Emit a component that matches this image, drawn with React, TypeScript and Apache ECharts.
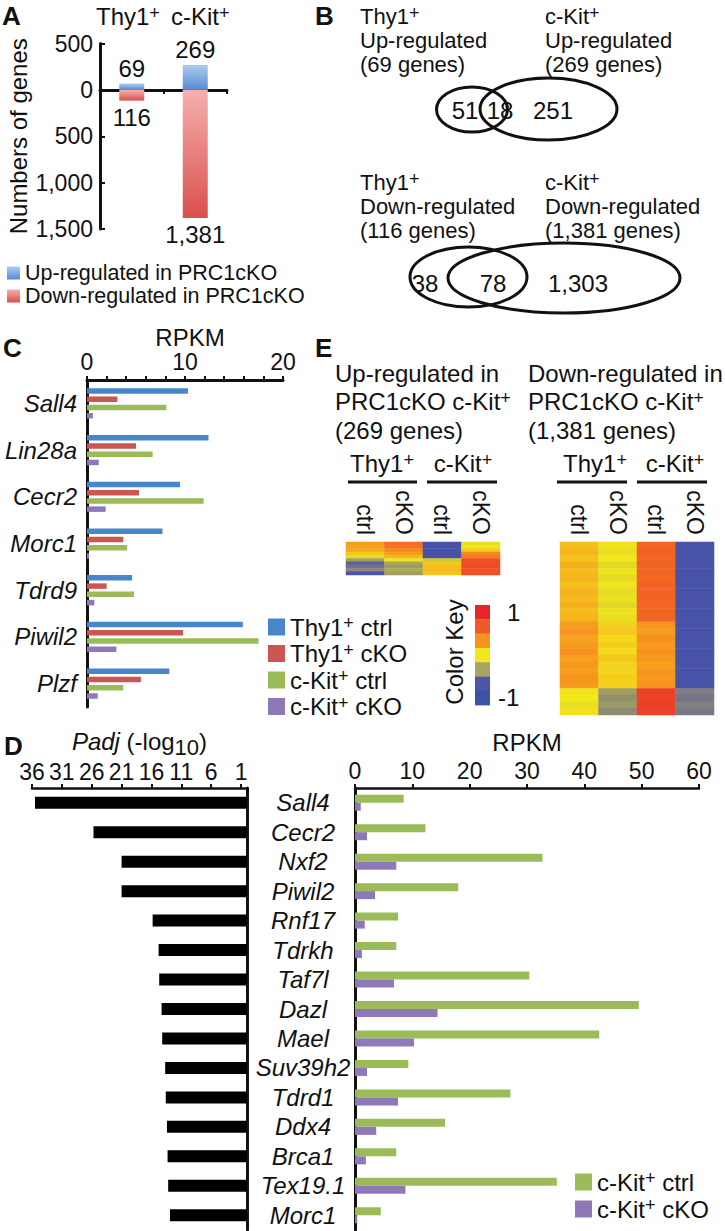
import React, { useEffect, useRef } from 'react';
import * as echarts from 'echarts';

const FONT = '"Liberation Sans", Arial, Helvetica, sans-serif';
const FS = 24;
const TICK = 23;
const INK = '#111';

// ---------- Panel A ----------
const aGroups = ['Thy1+', 'c-Kit+'];
const aUpCounts = [69, 269];
const aDownCounts = [-116, -1381];
const aLegend = ['Up-regulated in PRC1cKO', 'Down-regulated in PRC1cKO'];

// ---------- Panel B ----------
const vennUpTotals = [69, 269];
const vennUpParts = [51, 18, 251];
const vennDownTotals = [116, 1381];
const vennDownParts = [38, 78, 1303];

// ---------- Panel C ----------
const cGenes = ['Sall4', 'Lin28a', 'Cecr2', 'Morc1', 'Tdrd9', 'Piwil2', 'Plzf'];
const cThyCtrl = [10.3, 12.4, 9.5, 7.7, 4.6, 15.9, 8.4];
const cThyCKO = [3.1, 5.0, 5.3, 3.7, 2.0, 9.8, 5.5];
const cKitCtrl = [8.1, 6.7, 11.9, 4.1, 4.8, 17.5, 3.7];
const cKitCKO = [0.6, 1.2, 1.9, 0.2, 0.75, 3.0, 1.1];
const cSeries = ['Thy1+ ctrl', 'Thy1+ cKO', 'c-Kit+ ctrl', 'c-Kit+ cKO'];
const cTicks = [0, 2, 4, 6, 8, 10, 12, 14, 16, 18, 20];
const cTickLabels = [0, 10, 20];

// ---------- Panel E ----------
const eCols = ['ctrl', 'cKO', 'ctrl', 'cKO'];
// up-regulated (269 genes), rows top to bottom
const eUpThyCtrl = [0.30, 0.28, 0.26, 0.12, -0.05, -0.35, -0.62, -0.55, -0.45, -0.72];
const eUpThyCKO = [0.56, 0.52, 0.40, 0.30, 0.20, -0.02, -0.32, -0.38, -0.30, -0.36];
const eUpKitCtrl = [-0.85, -0.84, -0.83, -0.82, -0.80, -0.15, 0.12, 0.16, 0.18, 0.14];
const eUpKitCKO = [-0.05, 0.0, 0.10, 0.42, 0.48, 0.72, 0.74, 0.76, 0.72, 0.74];
// down-regulated (1,381 genes), rows top to bottom
const eDownThyCtrl = [0.17, 0.2, 0.15, 0.22, 0.18, 0.2, 0.16, 0.21, 0.19, 0.23, 0.18, 0.2, 0.3, 0.33, 0.28, 0.31, 0.35, 0.29, 0.32, 0.3, 0.34, 0.31, 0.02, 0.0, -0.04, 0.03];
const eDownThyCKO = [0.02, -0.04, 0.0, -0.07, -0.02, -0.06, 0.01, -0.05, -0.03, -0.08, -0.02, -0.05, 0.09, 0.12, 0.06, 0.1, 0.05, 0.13, 0.08, 0.07, 0.11, 0.09, -0.36, -0.42, -0.38, -0.44];
const eDownKitCtrl = [0.6, 0.62, 0.59, 0.61, 0.6, 0.58, 0.62, 0.6, 0.61, 0.59, 0.6, 0.61, 0.33, 0.3, 0.35, 0.31, 0.34, 0.32, 0.29, 0.33, 0.31, 0.34, 0.82, 0.8, 0.83, 0.81];
const eDownKitCKO = [-0.82, -0.83, -0.82, -0.81, -0.82, -0.83, -0.82, -0.82, -0.81, -0.82, -0.83, -0.82, -0.82, -0.81, -0.82, -0.83, -0.82, -0.82, -0.81, -0.82, -0.83, -0.82, -0.5, -0.54, -0.48, -0.52];
const eKeyLabels = ['1', '-1'];

// ---------- Panel D ----------
const dGenes = ['Sall4', 'Cecr2', 'Nxf2', 'Piwil2', 'Rnf17', 'Tdrkh', 'Taf7l', 'Dazl', 'Mael', 'Suv39h2', 'Tdrd1', 'Ddx4', 'Brca1', 'Tex19.1', 'Morc1'];
const dPadj = [35.5, 25.7, 21.0, 21.0, 15.8, 14.8, 14.7, 14.3, 14.2, 13.7, 13.6, 13.4, 13.3, 13.2, 12.9];
const dKitCtrl = [8.5, 12.3, 32.7, 18.0, 7.5, 7.2, 30.4, 49.5, 42.6, 9.3, 27.1, 15.7, 7.2, 35.2, 4.5];
const dKitCKO = [1.0, 2.1, 7.2, 3.5, 1.7, 1.2, 6.8, 14.4, 10.3, 2.1, 7.5, 3.7, 1.9, 8.8, 0.4];
const dPadjTicks = [1, 6, 11, 16, 21, 26, 31, 36];
const dSeries = ['c-Kit+ ctrl', 'c-Kit+ cKO'];

// ---------- styles ----------
const BLUE = '#4886cc';
const RED = '#cb5550';
const GREEN = '#9bbb59';
const PURPLE = '#8f78b8';
const HEAT = ['#3a4fa8', '#5356a6', '#a9a45b', '#f2e71b', '#f7951e', '#f15a24', '#e8232a'];
const KEY = ['#e8262a', '#f05a28', '#f7941e', '#f2e61c', '#a8a55c', '#5054a6', '#3c52a8'];

const fmtNum = (n: number) => String(Math.abs(n)).replace(/\B(?=(\d{3})+(?!\d))/g, ',');
const sup = (s: string) => s.replace('+', '{sup|+}');
const supRich = { sup: { fontSize: 18, lineHeight: 8, verticalAlign: 'top', fontFamily: FONT, color: INK } };

const txt = (x: number, y: number, text: string, extra: any = {}) => {
  const hasSup = text.indexOf('{sup|') >= 0;
  const style: any = {
    text,
    fill: INK,
    fontSize: FS,
    fontFamily: FONT,
    fontWeight: extra.fontWeight || 'normal',
    align: extra.align || 'left',
    textAlign: extra.align || 'left',
    verticalAlign: 'middle',
    textVerticalAlign: 'middle',
    ...(extra.style || {}),
  };
  if (hasSup) {
    style.lineHeight = 24;
    style.rich = { sup: { fontSize: 18, lineHeight: 6, verticalAlign: 'top', fontFamily: FONT, fill: INK } };
  }
  return { type: 'text', x, y, silent: true, rotation: extra.rotation || 0, style };
};

const ell = (cx: number, cy: number, rx: number, ry: number) => ({
  type: 'ellipse',
  silent: true,
  shape: { cx, cy, rx, ry },
  style: { fill: 'none', stroke: INK, lineWidth: 3 },
});

const hline = (x1: number, x2: number, y: number) => ({
  type: 'line',
  silent: true,
  shape: { x1, y1: y, x2, y2: y },
  style: { stroke: INK, lineWidth: 3 },
});

const cells = (cols: number[][]) => {
  const out: number[][] = [];
  cols.forEach((col, j) => col.forEach((v, i) => out.push([j, i, v])));
  return out;
};

const axisLine = { show: true, onZero: false, lineStyle: { color: INK, width: 3 } };
const lbl = { color: INK, fontSize: FS, fontFamily: FONT };
const tickLbl = { color: INK, fontSize: TICK, fontFamily: FONT };
const B = { style: { fontSize: 22 } };

export default function App() {
  const ref = useRef<HTMLDivElement>(null);

  useEffect(() => {
    if (!ref.current) return;
    const chart = echarts.init(ref.current, null, { renderer: 'svg' });

    const gradUp = new echarts.graphic.LinearGradient(0, 0, 0, 1, [
      { offset: 0, color: '#aecbef' },
      { offset: 1, color: '#558dd3' },
    ]);
    const gradDown = new echarts.graphic.LinearGradient(0, 0, 0, 1, [
      { offset: 0, color: '#f5b0ae' },
      { offset: 1, color: '#d9504c' },
    ]);

    const grids = [
      { left: 100, top: 43.5, width: 127, height: 185.5 },
      { left: 87, top: 380, width: 196, height: 327 },
      { left: 346, top: 542, width: 154, height: 33 },
      { left: 560, top: 542, width: 154, height: 173 },
      { left: 32, top: 788, width: 215, height: 442 },
      { left: 355, top: 788, width: 344, height: 442 },
    ].map((g) => ({ ...g, containLabel: false, outerBoundsMode: 'none' }));

    const letter = { fontWeight: 'bold', style: { fontSize: 26 } };

    const graphicEls: any[] = [
      // panel letters
      txt(2, 16, 'A', letter),
      txt(315, 16, 'B', letter),
      txt(3, 348, 'C', letter),
      txt(315, 348, 'E', letter),
      txt(4, 746, 'D', letter),
      // A headers
      txt(96, 16, sup(aGroups[0])),
      txt(171, 16, sup(aGroups[1])),
      // B upper
      txt(360, 16, sup('Thy1+'), B),
      txt(360, 40, 'Up-regulated', B),
      txt(360, 64, `(${fmtNum(vennUpTotals[0])} genes)`, B),
      txt(545, 16, sup('c-Kit+'), B),
      txt(545, 40, 'Up-regulated', B),
      txt(545, 64, `(${fmtNum(vennUpTotals[1])} genes)`, B),
      ell(472, 109.5, 35.5, 22.5),
      ell(548.5, 109, 68.5, 31),
      txt(465, 110, fmtNum(vennUpParts[0]), { align: 'center' }),
      txt(500, 110, fmtNum(vennUpParts[1]), { align: 'center' }),
      txt(553, 110, fmtNum(vennUpParts[2]), { align: 'center' }),
      // B lower
      txt(360, 182, sup('Thy1+'), B),
      txt(360, 206, 'Down-regulated', B),
      txt(360, 230, `(${fmtNum(vennDownTotals[0])} genes)`, B),
      txt(545, 182, sup('c-Kit+'), B),
      txt(545, 206, 'Down-regulated', B),
      txt(545, 230, `(${fmtNum(vennDownTotals[1])} genes)`, B),
      ell(468.5, 277, 58.5, 30),
      ell(564, 278, 116, 35),
      txt(425, 283, fmtNum(vennDownParts[0]), { align: 'center' }),
      txt(493, 283, fmtNum(vennDownParts[1]), { align: 'center' }),
      txt(578, 283, fmtNum(vennDownParts[2]), { align: 'center' }),
      // E titles
      txt(335, 373, 'Up-regulated in'),
      txt(335, 401, sup('PRC1cKO c-Kit+')),
      txt(335, 430, `(${fmtNum(vennUpTotals[1])} genes)`),
      txt(528, 373, 'Down-regulated in'),
      txt(528, 401, sup('PRC1cKO c-Kit+')),
      txt(528, 430, `(${fmtNum(vennDownTotals[1])} genes)`),
      // E group headers
      txt(382, 463, sup('Thy1+'), { align: 'center' }),
      txt(463, 463, sup('c-Kit+'), { align: 'center' }),
      txt(595, 463, sup('Thy1+'), { align: 'center' }),
      txt(675, 463, sup('c-Kit+'), { align: 'center' }),
      hline(348, 417, 482),
      hline(427, 497, 482),
      hline(557, 627, 482),
      hline(637, 707, 482),
      // colour key
      ...KEY.map((c, i) => ({
        type: 'rect',
        silent: true,
        shape: { x: 475, y: 605 + i * 14.3, width: 15, height: 14.6 },
        style: { fill: c },
      })),
      txt(507, 612, eKeyLabels[0]),
      txt(498, 697, eKeyLabels[1]),
      txt(454, 652, 'Color Key', { align: 'center', rotation: Math.PI / 2 }),
    ];

    const legendBase = {
      selectedMode: false,
      orient: 'vertical',
      padding: 0,
      icon: 'rect',
    };

    const option: any = {
      animation: false,
      backgroundColor: '#fff',
      textStyle: { fontFamily: FONT, color: INK },
      grid: grids,
      legend: [
        {
          ...legendBase,
          data: aLegend,
          left: 7,
          top: 262,
          itemWidth: 13,
          itemHeight: 13,
          itemGap: 1,
          textStyle: { color: INK, fontFamily: FONT, fontSize: 21.5, lineHeight: 21 },
        },
        {
          ...legendBase,
          data: cSeries,
          left: 268,
          top: 614,
          itemWidth: 17,
          itemHeight: 17,
          itemGap: 0.5,
          formatter: sup,
          textStyle: { ...lbl, lineHeight: 26, rich: supRich },
        },
        {
          ...legendBase,
          data: dSeries,
          left: 575,
          top: 1169,
          itemWidth: 17,
          itemHeight: 17,
          itemGap: 1,
          formatter: sup,
          textStyle: { ...lbl, lineHeight: 26, rich: supRich },
        },
      ],
      visualMap: {
        type: 'continuous',
        show: false,
        min: -1,
        max: 1,
        seriesIndex: [6, 7],
        inRange: { color: HEAT },
      },
      xAxis: [
        {
          gridIndex: 0,
          type: 'category',
          data: aGroups,
          axisLine: { show: true, onZero: true, lineStyle: { color: INK, width: 3 } },
          axisTick: { show: true, length: 4, lineStyle: { color: INK, width: 2 } },
          axisLabel: { show: false },
          splitLine: { show: false },
        },
        {
          gridIndex: 1,
          type: 'value',
          position: 'top',
          min: 0,
          max: 20,
          axisLine,
          axisTick: { show: true, customValues: cTicks, length: 4, lineStyle: { color: INK, width: 2 } },
          axisLabel: { ...tickLbl, customValues: cTickLabels, margin: 7 },
          splitLine: { show: false },
          name: 'RPKM',
          nameLocation: 'middle',
          nameGap: 30,
          nameTextStyle: { ...lbl, padding: [0, 0, 0, 10] },
        },
        {
          gridIndex: 2,
          type: 'category',
          position: 'top',
          data: eCols,
          axisLine: { show: false },
          axisTick: { show: false },
          axisLabel: { ...tickLbl, rotate: 90, margin: 7, interval: 0 },
        },
        {
          gridIndex: 3,
          type: 'category',
          position: 'top',
          data: eCols,
          axisLine: { show: false },
          axisTick: { show: false },
          axisLabel: { ...tickLbl, rotate: 90, margin: 7, interval: 0 },
        },
        {
          gridIndex: 4,
          type: 'value',
          position: 'top',
          inverse: true,
          min: 0,
          max: 36,
          axisLine: { show: true, lineStyle: { color: INK, width: 2.5 } },
          axisTick: { show: true, customValues: dPadjTicks, length: 4, lineStyle: { color: INK, width: 2 } },
          axisLabel: { ...tickLbl, customValues: dPadjTicks, margin: 5 },
          splitLine: { show: false },
          name: '{i|Padj} (-log{sub|10})',
          nameLocation: 'middle',
          nameGap: 30,
          nameTextStyle: {
            ...lbl,
            rich: {
              i: { fontSize: FS, fontStyle: 'italic', fontFamily: FONT, color: INK },
              sub: { fontSize: 22, fontFamily: FONT, color: INK, padding: [12, 0, 0, 0] },
            },
          },
        },
        {
          gridIndex: 5,
          type: 'value',
          position: 'top',
          min: 0,
          max: 60,
          interval: 10,
          axisLine: { show: true, lineStyle: { color: INK, width: 2.5 } },
          axisTick: { show: true, length: 4, lineStyle: { color: INK, width: 2 } },
          axisLabel: { ...tickLbl, margin: 6 },
          splitLine: { show: false },
          name: 'RPKM',
          nameLocation: 'middle',
          nameGap: 34,
          nameTextStyle: { ...lbl },
        },
      ],
      yAxis: [
        {
          gridIndex: 0,
          type: 'value',
          min: -1500,
          max: 500,
          interval: 500,
          axisLine,
          axisTick: { show: true, inside: true, length: 5, lineStyle: { color: INK, width: 2 } },
          axisLabel: { ...tickLbl, margin: 7, formatter: (v: number) => fmtNum(v) },
          splitLine: { show: false },
          name: 'Numbers of genes',
          nameLocation: 'middle',
          nameGap: 70,
          nameRotate: 90,
          nameTextStyle: { ...lbl },
        },
        {
          gridIndex: 1,
          type: 'category',
          data: cGenes,
          inverse: true,
          axisLine,
          axisTick: { show: false },
          axisLabel: { ...lbl, fontStyle: 'italic', margin: 10, interval: 0 },
        },
        {
          gridIndex: 2,
          type: 'category',
          data: eUpThyCtrl.map((_, i) => String(i)),
          inverse: true,
          show: false,
        },
        {
          gridIndex: 3,
          type: 'category',
          data: eDownThyCtrl.map((_, i) => String(i)),
          inverse: true,
          show: false,
        },
        {
          gridIndex: 4,
          type: 'category',
          data: dGenes,
          inverse: true,
          position: 'right',
          axisLine,
          axisTick: { show: false },
          axisLabel: { show: false },
        },
        {
          gridIndex: 5,
          type: 'category',
          data: dGenes,
          inverse: true,
          axisLine,
          axisTick: { show: false },
          axisLabel: { ...lbl, fontStyle: 'italic', align: 'center', margin: 52, interval: 0 },
        },
      ],
      series: [
        {
          type: 'bar',
          name: aLegend[0],
          xAxisIndex: 0,
          yAxisIndex: 0,
          stack: 'a',
          data: aUpCounts,
          barWidth: 25,
          itemStyle: { color: gradUp },
          label: { show: true, position: 'top', distance: 3, ...lbl, formatter: (p: any) => fmtNum(p.value) },
        },
        {
          type: 'bar',
          name: aLegend[1],
          xAxisIndex: 0,
          yAxisIndex: 0,
          stack: 'a',
          data: aDownCounts,
          barWidth: 25,
          itemStyle: { color: gradDown },
          label: { show: true, position: 'bottom', distance: 5, ...lbl, formatter: (p: any) => fmtNum(p.value) },
        },
        ...[cThyCtrl, cThyCKO, cKitCtrl, cKitCKO].map((d, k) => ({
          type: 'bar',
          name: cSeries[k],
          xAxisIndex: 1,
          yAxisIndex: 1,
          data: d,
          barWidth: 5.5,
          barGap: '50%',
          itemStyle: { color: [BLUE, RED, GREEN, PURPLE][k] },
        })),
        {
          type: 'heatmap',
          xAxisIndex: 2,
          yAxisIndex: 2,
          data: cells([eUpThyCtrl, eUpThyCKO, eUpKitCtrl, eUpKitCKO]),
          itemStyle: { borderWidth: 0 },
        },
        {
          type: 'heatmap',
          xAxisIndex: 3,
          yAxisIndex: 3,
          data: cells([eDownThyCtrl, eDownThyCKO, eDownKitCtrl, eDownKitCKO]),
          itemStyle: { borderWidth: 0 },
        },
        {
          type: 'bar',
          xAxisIndex: 4,
          yAxisIndex: 4,
          data: dPadj,
          barWidth: 12,
          itemStyle: { color: '#000' },
        },
        {
          type: 'bar',
          name: dSeries[0],
          xAxisIndex: 5,
          yAxisIndex: 5,
          data: dKitCtrl,
          barWidth: 8,
          barGap: '0%',
          itemStyle: { color: GREEN },
        },
        {
          type: 'bar',
          name: dSeries[1],
          xAxisIndex: 5,
          yAxisIndex: 5,
          data: dKitCKO,
          barWidth: 8,
          barGap: '0%',
          itemStyle: { color: PURPLE },
        },
      ],
      graphic: { elements: graphicEls },
    };

    chart.setOption(option);
    return () => chart.dispose();
  }, []);

  return (
    <div
      ref={ref}
      style={{ position: 'absolute', left: 0, top: 0, width: 725, height: 1231, background: '#fff' }}
    />
  );
}
